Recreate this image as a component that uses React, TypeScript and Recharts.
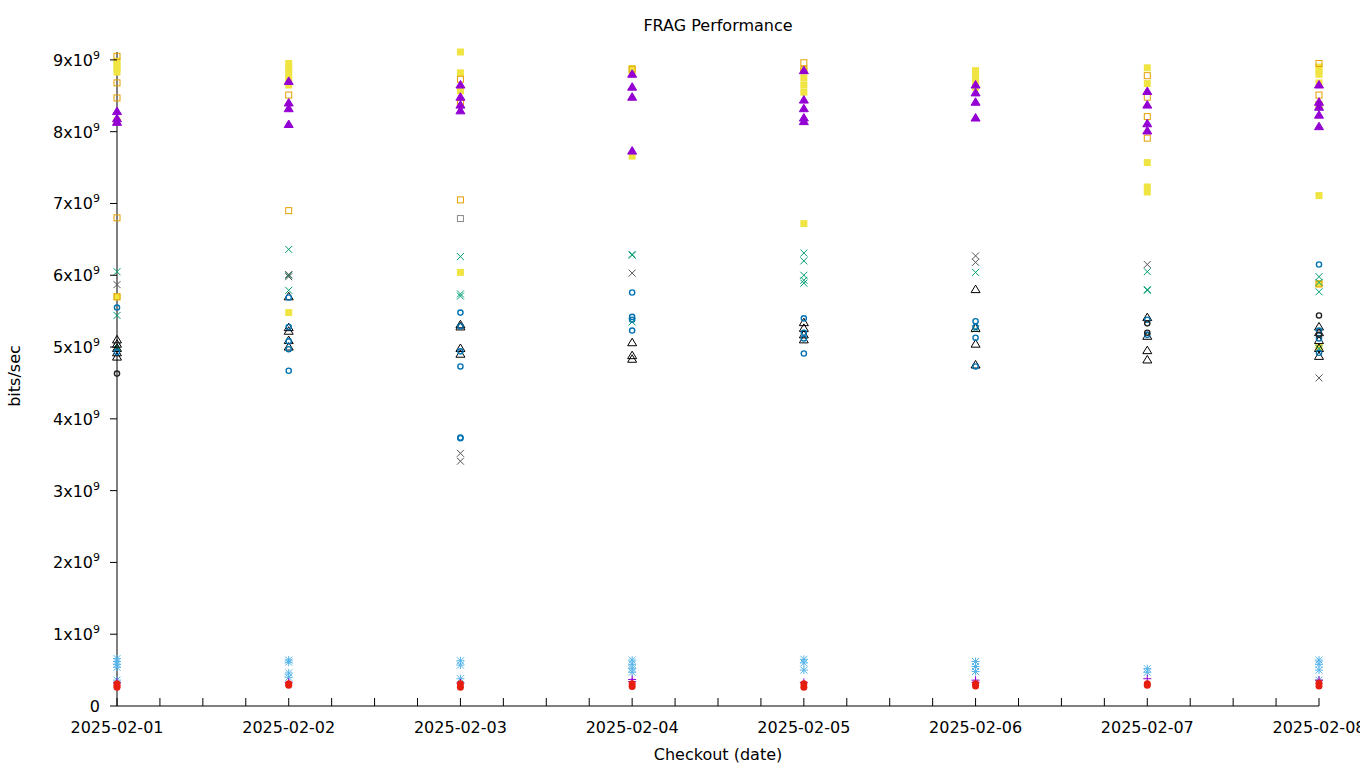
import React from "react";
import { Scatter, ScatterChart, XAxis, YAxis } from "recharts";

// values in units of 1e9 bits/sec, one inner list per checkout date
const DATES = [
  "2025-02-01",
  "2025-02-02",
  "2025-02-03",
  "2025-02-04",
  "2025-02-05",
  "2025-02-06",
  "2025-02-07",
  "2025-02-08",
];

const yellowSquares = [
  [8.98, 8.93, 8.88, 8.83, 8.15, 5.7],
  [8.95, 8.88, 8.8, 8.72, 8.65, 5.48],
  [9.11, 8.82, 8.57, 6.04],
  [8.88, 8.82, 7.66],
  [8.85, 8.75, 8.65, 8.55, 6.72],
  [8.85, 8.78, 8.7, 8.62],
  [8.89, 8.67, 7.57, 7.23, 7.16],
  [8.9, 8.85, 8.8, 8.68, 7.11, 5.88, 5.0],
];
const orangeSquares = [
  [9.05, 8.68, 8.47, 6.8, 5.7],
  [8.51, 6.9],
  [8.73, 8.4, 7.05],
  [8.87],
  [8.96, 8.87],
  [],
  [8.78, 8.48, 8.21, 7.91],
  [8.95, 8.51, 8.38, 5.88],
];
const graySquares = [[], [], [6.79], [], [], [], [], []];
const greenCrosses = [
  [6.05, 5.44, 5.0],
  [6.36, 6.0, 5.79],
  [6.26, 5.74, 5.71],
  [6.29, 6.28, 5.35],
  [6.31, 6.2, 6.0, 5.93, 5.89],
  [6.04, 5.25],
  [6.05, 5.8, 5.79],
  [5.98, 5.9, 5.77, 4.98],
];
const grayCrosses = [[5.87], [6.01, 5.98], [3.52, 3.41], [6.03], [], [6.27, 6.18], [6.15], [4.57]];
const blueCircles = [
  [5.55, 4.93],
  [5.69, 5.28, 5.08, 4.97, 4.67],
  [5.48, 5.29, 4.94, 4.73, 3.74, 3.73],
  [5.76, 5.42, 5.38, 5.23],
  [5.4, 5.2, 5.12, 4.91],
  [5.36, 5.28, 5.13, 4.73],
  [5.38, 5.17],
  [6.15, 5.23, 5.12, 4.92],
];
const blackCircles = [[4.63], [], [], [], [], [], [5.33, 5.2], [5.44, 5.17]];
const blackTriangles = [
  [5.1, 5.04, 4.98, 4.92, 4.86],
  [5.7, 5.27, 5.22, 5.09, 5.0],
  [5.31, 5.28, 4.98, 4.9],
  [5.06, 4.88, 4.83],
  [5.34, 5.26, 5.17, 5.1],
  [5.8, 5.26, 5.04, 4.75],
  [5.41, 5.15, 4.95, 4.82],
  [5.28, 5.2, 5.09, 4.98, 4.87],
];
const lightBlueStars = [
  [0.66, 0.62, 0.58, 0.54, 0.36],
  [0.64, 0.61, 0.46, 0.4],
  [0.63, 0.57, 0.38],
  [0.64, 0.58, 0.52, 0.47],
  [0.65, 0.6, 0.5],
  [0.62, 0.55, 0.48],
  [0.52, 0.47],
  [0.64, 0.58, 0.5, 0.36],
];
const purplePluses = [[0.33], [0.33], [0.32], [0.37, 0.34], [0.33], [0.36, 0.33], [0.38], [0.36]];
const redDots = [
  [0.31, 0.28, 0.26],
  [0.31, 0.29],
  [0.31, 0.26],
  [0.31, 0.27],
  [0.31, 0.26],
  [0.31, 0.28],
  [0.31, 0.29],
  [0.32, 0.28],
];
const purpleTriangles = [
  [8.28, 8.18, 8.13],
  [8.7, 8.4, 8.32, 8.1],
  [8.65, 8.48, 8.37, 8.29],
  [8.8, 8.62, 8.48, 7.73],
  [8.85, 8.44, 8.32, 8.19, 8.14],
  [8.65, 8.54, 8.41, 8.19],
  [8.56, 8.37, 8.11, 8.01],
  [8.65, 8.41, 8.34, 8.23, 8.07],
];

const Y_TICKS = [0, 1, 2, 3, 4, 5, 6, 7, 8, 9];
const X_TICKS = Array.from({ length: 29 }, (_, i) => i / 4);

const FONT = "'DejaVu Sans', sans-serif";

function toPoints(byDate: number[][]) {
  return byDate.flatMap((vals, day) => vals.map((v) => ({ x: day, y: v })));
}

type P = { cx?: number; cy?: number };

const square = (color: string, filled: boolean) => (p: P) => {
  const { cx = 0, cy = 0 } = p;
  return filled ? (
    <rect x={cx - 3.5} y={cy - 3.5} width={7} height={7} fill={color} />
  ) : (
    <rect x={cx - 3} y={cy - 3} width={6} height={6} fill="none" stroke={color} strokeWidth={1} />
  );
};

const triangle = (color: string, filled: boolean) => (p: P) => {
  const { cx = 0, cy = 0 } = p;
  const pts = `${cx},${cy - 4.5} ${cx - 4.5},${cy + 3} ${cx + 4.5},${cy + 3}`;
  return <polygon points={pts} fill={filled ? color : "none"} stroke={color} strokeWidth={1} />;
};

const cross = (color: string) => (p: P) => {
  const { cx = 0, cy = 0 } = p;
  return (
    <g stroke={color} strokeWidth={1}>
      <line x1={cx - 3.5} y1={cy - 3.5} x2={cx + 3.5} y2={cy + 3.5} />
      <line x1={cx - 3.5} y1={cy + 3.5} x2={cx + 3.5} y2={cy - 3.5} />
    </g>
  );
};

const plus = (color: string) => (p: P) => {
  const { cx = 0, cy = 0 } = p;
  return (
    <g stroke={color} strokeWidth={1}>
      <line x1={cx - 4} y1={cy} x2={cx + 4} y2={cy} />
      <line x1={cx} y1={cy - 4} x2={cx} y2={cy + 4} />
    </g>
  );
};

const star = (color: string) => (p: P) => (
  <g>
    {cross(color)(p)}
    {plus(color)(p)}
  </g>
);

const circle = (color: string, filled: boolean) => (p: P) => {
  const { cx = 0, cy = 0 } = p;
  return filled ? (
    <circle cx={cx} cy={cy} r={3.5} fill={color} />
  ) : (
    <circle cx={cx} cy={cy} r={2.6} fill="none" stroke={color} strokeWidth={1.4} />
  );
};

const SERIES = [
  { name: "yellow", data: yellowSquares, shape: square("#f0e442", true) },
  { name: "orange", data: orangeSquares, shape: square("#e69f00", false) },
  { name: "graysq", data: graySquares, shape: square("#8a8a8a", false) },
  { name: "green", data: greenCrosses, shape: cross("#009e73") },
  { name: "gray", data: grayCrosses, shape: cross("#555555") },
  { name: "blacktri", data: blackTriangles, shape: triangle("#000000", false) },
  { name: "blue", data: blueCircles, shape: circle("#0072b2", false) },
  { name: "blackcirc", data: blackCircles, shape: circle("#222222", false) },
  { name: "lightblue", data: lightBlueStars, shape: star("#56b4e9") },
  { name: "plus", data: purplePluses, shape: plus("#9400d3") },
  { name: "red", data: redDots, shape: circle("#e51e10", true) },
  { name: "purple", data: purpleTriangles, shape: triangle("#9400d3", true) },
];

function BottomTick(props: any) {
  const { x, y, payload } = props;
  const v = payload.value as number;
  const major = Number.isInteger(v);
  return (
    <g>
      <line x1={x} x2={x} y1={y} y2={y - 8} stroke="#000" strokeWidth={1} />
      {major && (
        <text x={x} y={y + 27} textAnchor="middle" fontSize={16} fontFamily={FONT} fill="#000">
          {DATES[v]}
        </text>
      )}
    </g>
  );
}

function TopTick(props: any) {
  const { x, y, payload } = props;
  const major = Number.isInteger(payload.value);
  return <line x1={x} x2={x} y1={y} y2={y - (major ? 8 : 4)} stroke="#000" strokeWidth={1} />;
}

function LeftTick(props: any) {
  const { x, y, payload } = props;
  const v = payload.value as number;
  return (
    <g>
      <line x1={x} x2={x - 7} y1={y} y2={y} stroke="#000" strokeWidth={1} />
      <text x={x - 17} y={y + 6} textAnchor="end" fontSize={16} fontFamily={FONT} fill="#000">
        {v === 0 ? (
          "0"
        ) : (
          <>
            {v}x10
            <tspan dy={-7} fontSize={11}>
              9
            </tspan>
          </>
        )}
      </text>
    </g>
  );
}

function RightTick(props: any) {
  const { x, y } = props;
  return <line x1={x} x2={x + 8} y1={y} y2={y} stroke="#000" strokeWidth={1} />;
}

export default function App() {
  const textStyle: React.CSSProperties = {
    position: "absolute",
    fontFamily: FONT,
    fontSize: 16,
    lineHeight: 1,
    whiteSpace: "nowrap",
    color: "#000",
  };
  return (
    <div style={{ position: "absolute", left: 0, top: 0, width: 1360, height: 768, background: "#fff" }}>
      <ScatterChart width={1360} height={768} margin={{ top: 0, right: 0, bottom: 0, left: 0 }}>
        <XAxis
          dataKey="x"
          type="number"
          domain={[0, 7]}
          ticks={X_TICKS}
          interval={0}
          height={62}
          tickSize={0}
          tickMargin={0}
          tickLine={false}
          axisLine={{ stroke: "#000" }}
          tick={<BottomTick />}
        />
        <XAxis
          xAxisId="top"
          orientation="top"
          type="number"
          domain={[0, 7]}
          ticks={X_TICKS}
          interval={0}
          height={52}
          tickSize={0}
          tickMargin={0}
          tickLine={false}
          axisLine={false}
          tick={<TopTick />}
        />
        <YAxis
          dataKey="y"
          type="number"
          domain={[0, 9.1]}
          ticks={Y_TICKS}
          interval={0}
          width={117}
          tickSize={0}
          tickMargin={0}
          tickLine={false}
          axisLine={{ stroke: "#000" }}
          tick={<LeftTick />}
        />
        <YAxis
          yAxisId="right"
          orientation="right"
          type="number"
          domain={[0, 9.1]}
          ticks={Y_TICKS}
          interval={0}
          width={41}
          tickSize={0}
          tickMargin={0}
          tickLine={false}
          axisLine={false}
          tick={<RightTick />}
        />
        {SERIES.map((s) => (
          <Scatter
            key={s.name}
            name={s.name}
            data={toPoints(s.data)}
            shape={s.shape as any}
            isAnimationActive={false}
          />
        ))}
      </ScatterChart>
      <div style={{ ...textStyle, left: 718, top: 26, transform: "translate(-50%, -50%)" }}>FRAG Performance</div>
      <div style={{ ...textStyle, left: 718, top: 755, transform: "translate(-50%, -50%)" }}>Checkout (date)</div>
      <div style={{ ...textStyle, left: 15, top: 376, transform: "translate(-50%, -50%) rotate(-90deg)" }}>
        bits/sec
      </div>
    </div>
  );
}
